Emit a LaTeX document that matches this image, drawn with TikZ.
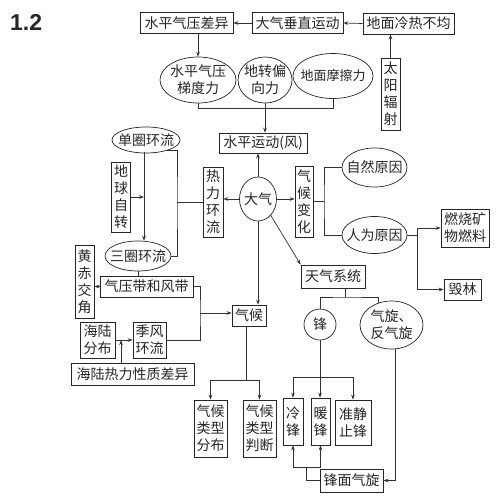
\documentclass[tikz,border=0pt]{standalone}
\usepackage{fontspec}
\newfontfamily\cjk{Noto Sans CJK SC}
\newfontfamily\titlefont{Liberation Sans}
\usetikzlibrary{shapes.geometric,arrows.meta}
\begin{document}
\begin{tikzpicture}[x=1pt,y=-1pt,
  base/.style={draw=black!85, line width=0.7pt, inner sep=-40pt, align=center,
    font=\cjk\fontsize{14}{17}\selectfont, text=black!85},
  bx/.style={base, rectangle},
  el/.style={base, ellipse},
  arr/.style={-{Stealth[length=5pt,width=3.6pt]}},
  ln/.style={draw=black!80, line width=0.7pt}]
\fill[white] (0,0) rectangle (500,501);
\useasboundingbox (0,0) rectangle (500,501);
\node[font=\titlefont\bfseries\fontsize{23}{23}\selectfont, anchor=base west, inner sep=0, text=black!85] (title) at (10,30) {1.2};
% top row
\node[bx, minimum width=93pt, minimum height=21pt] (sp) at (186.5,23) {水平气压差异};
\node[bx, minimum width=91pt, minimum height=21pt] (cz) at (297.5,23) {大气垂直运动};
\node[bx, minimum width=91pt, minimum height=21pt] (lr) at (408.5,23.5) {地面冷热不均};
\node[bx, minimum width=19pt, minimum height=72pt] (ty) at (390.5,94) {太\\阳\\辐\\射};
% forces
\node[el, minimum width=76pt, minimum height=46pt] (tdl) at (198,80) {水平气压\\梯度力};
\node[el, minimum width=54pt, minimum height=46pt] (dz) at (265,80) {地转偏\\向力};
\node[el, minimum width=80pt, minimum height=45pt, font=\cjk\fontsize{13}{16}\selectfont] (mc) at (333,76) {地面摩擦力};
\node[bx, minimum width=88pt, minimum height=20pt] (fw) at (263,143) {水平运动(风)};
% centre
\node[el, minimum width=37pt, minimum height=44pt] (dq) at (258,199) {大气};
\node[bx, minimum width=20pt, minimum height=70pt] (rl) at (213,202) {热\\力\\环\\流};
\node[bx, minimum width=18pt, minimum height=71pt] (qhbh) at (304,201.5) {气\\候\\变\\化};
% circulation
\node[el, minimum width=68pt, minimum height=26pt] (dq1) at (146,140) {单圈环流};
\node[bx, minimum width=19pt, minimum height=70pt] (dqzz) at (121,197) {地\\球\\自\\转};
\node[el, minimum width=66pt, minimum height=30pt] (sq) at (138,256) {三圈环流};
\node[bx, minimum width=19pt, minimum height=73pt] (hc) at (84.5,281.5) {黄\\赤\\交\\角};
\node[bx, minimum width=93pt, minimum height=21pt] (qyd) at (146.5,286.5) {气压带和风带};
\node[bx, minimum width=33pt, minimum height=36pt] (jf) at (149.5,340) {季风\\环流};
\node[bx, minimum width=35pt, minimum height=36pt] (hl) at (97.5,340) {海陆\\分布};
\node[bx, minimum width=123pt, minimum height=22pt] (hlr) at (132.5,374) {海陆热力性质差异};
% climate
\node[bx, minimum width=34pt, minimum height=21pt] (qh) at (249,315.5) {气候};
\node[bx, minimum width=33pt, minimum height=57pt] (lx1) at (210.5,428.5) {气候\\类型\\分布};
\node[bx, minimum width=33pt, minimum height=57pt] (lx2) at (259.5,428.5) {气候\\类型\\判断};
% weather
\node[bx, minimum width=64pt, minimum height=23pt] (tq) at (333,276.5) {天气系统};
\node[el, minimum width=32pt, minimum height=31pt] (feng) at (320,324.5) {锋};
\node[el, minimum width=63pt, minimum height=48pt] (qx) at (391.5,325) {气旋、\\反气旋};
\node[bx, minimum width=20pt, minimum height=47pt] (lf) at (293,421.5) {冷\\锋};
\node[bx, minimum width=19pt, minimum height=47pt] (nf) at (320.5,421.5) {暖\\锋};
\node[bx, minimum width=36pt, minimum height=45pt] (zj) at (353,422.5) {准静\\止锋};
\node[bx, minimum width=63pt, minimum height=23pt] (fmqx) at (351.5,480.5) {锋面气旋};
% climate change
\node[el, minimum width=65pt, minimum height=39pt] (zr) at (374.5,167.5) {自然原因};
\node[el, minimum width=65pt, minimum height=37pt] (rw) at (374.5,235) {人为原因};
\node[bx, minimum width=48pt, minimum height=38pt] (rs) at (465,228) {燃烧矿\\物燃料};
\node[bx, minimum width=37pt, minimum height=21pt] (hl2) at (462.5,289.5) {毁林};
% junction coordinates
\coordinate (jy) at (0,108);
\coordinate (rlj) at (177,202);
\coordinate (v1) at (144,152);
\coordinate (j2) at (200,313);
\coordinate (j3) at (121,340);
\coordinate (j4) at (345,297);
\coordinate (j5) at (320,377);
\coordinate (j6) at (306,467);
\coordinate (j7) at (324,202);
\coordinate (j8) at (417,235);
\coordinate (qhj) at (246,380);
% connectors
\begin{scope}[ln]
\draw[arr] (lr.west) -- (cz.east);
\draw[arr] (cz.west) -- (sp.east);
\draw[arr] (ty.north) -- (ty.north |- lr.south);
\draw[arr] (tdl.north |- sp.south) -- (tdl.north);
\draw (tdl.south) -- (tdl.south |- jy) -| (mc.south);
\draw[arr] (dz.south) -- (dz.south |- fw.north);
\draw[arr] (dq.north) -- (dq.north |- fw.south);
\draw[arr] (dq.west) -- (dq.west -| rl.east);
\draw[arr] (dq.east) -- (dq.east -| qhbh.west);
\draw (rl.west) -- (rlj);
\draw (dq1.-28) -| (rlj) |- (sq.east);
\draw[arr] (v1) -- (v1 |- sq.north);
\draw[arr] (dqzz.east) -- (dqzz.east -| v1);
\draw (sq.south) -- (sq.south |- qyd.north);
\draw[arr] (qyd.west) -- (qyd.west -| hc.east);
\draw (qyd.east) -| (j2) |- (jf.east);
\draw[arr] (j2) -- (j2 -| qh.west);
\draw[arr] (hl.east) -- (jf.west);
\draw[arr] (j3 |- hlr.north) -- (j3);
\draw[arr] (dq.south) -- (dq.south |- qh.north);
\draw (qhj |- qh.south) -- (qhj);
\draw[arr] (qhj) -| (lx1.north);
\draw[arr] (qhj) -| (lx2.north);
\draw[arr] (dq.-52) -- (tq.north west);
\draw (j4 |- tq.south) -- (j4);
\draw (feng.north) |- (j4) -| (qx.120);
\draw (feng.south) -- (j5);
\draw[arr] (j5) -- (j5 |- nf.north);
\draw[arr] (j5) -| (lf.north);
\draw[arr] (j5) -| (zj.north);
\draw[arr] (qx.-80) |- (fmqx.east);
\draw (fmqx.west) -| (j6);
\draw[arr] (j6) -| (lf.south);
\draw[arr] (j6) -| (nf.south);
\draw (qhbh.east) -- (qhbh.east -| j7);
\draw (zr.west) -| (j7) |- (rw.west);
\draw (rw.east) -- (j8);
\draw[arr] (j8) |- (rs.west);
\draw[arr] (j8) |- (hl2.west);
\end{scope}
\end{tikzpicture}
\end{document}
